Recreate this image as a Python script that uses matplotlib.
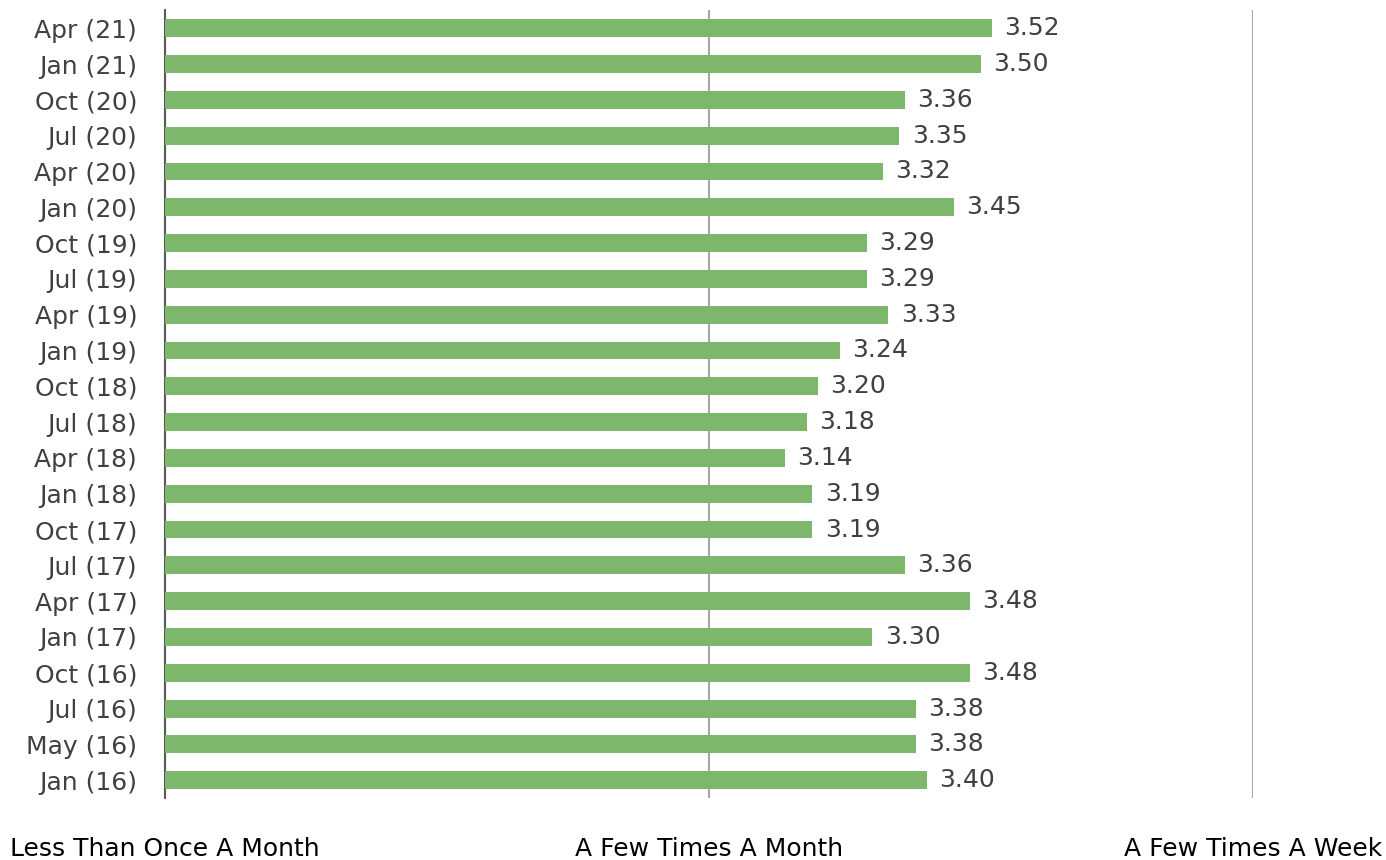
import matplotlib.pyplot as plt

plt.rcParams['font.family'] = ['DejaVu Sans']

periods = ['Jan (16)', 'May (16)', 'Jul (16)', 'Oct (16)', 'Jan (17)', 'Apr (17)',
           'Jul (17)', 'Oct (17)', 'Jan (18)', 'Apr (18)', 'Jul (18)', 'Oct (18)',
           'Jan (19)', 'Apr (19)', 'Jul (19)', 'Oct (19)', 'Jan (20)', 'Apr (20)',
           'Jul (20)', 'Oct (20)', 'Jan (21)', 'Apr (21)']
scores = [3.40, 3.38, 3.38, 3.48, 3.30, 3.48,
          3.36, 3.19, 3.19, 3.14, 3.18, 3.20,
          3.24, 3.33, 3.29, 3.29, 3.45, 3.32,
          3.35, 3.36, 3.50, 3.52]
scale_ticks = [2, 3, 4]
scale_labels = ['Less Than Once A Month', 'A Few Times A Month', 'A Few Times A Week']

fig = plt.figure(figsize=(13.86, 8.6), dpi=100)
ax = fig.add_axes([0.119, 0.072, 0.785, 0.916])

y = range(len(periods))
ax.barh(y, [s - 2 for s in scores], left=2, height=0.5, color='#7db76b', zorder=3)
for yi, s in zip(y, scores):
    ax.text(s + 0.023, yi, f'{s:.2f}', va='center', ha='left',
            fontsize=18, color='#404040', zorder=4)

ax.set_xlim(2, 4)
ax.set_ylim(-0.5, len(periods) - 0.5)
ax.set_yticks(list(y))
ax.set_yticklabels(periods, fontsize=18, color='#404040')
ax.set_xticks(scale_ticks)
ax.set_xticklabels(scale_labels, fontsize=18, color='black')
ax.tick_params(axis='y', length=0, pad=20)
ax.tick_params(axis='x', length=0, pad=28)

ax.grid(axis='x', color='#a6a6a6', linewidth=1.5, zorder=0)
for side in ['top', 'right', 'bottom']:
    ax.spines[side].set_visible(False)
ax.spines['left'].set_color('#595959')
ax.spines['left'].set_linewidth(1.5)

fig.savefig('out.png', dpi=100)
